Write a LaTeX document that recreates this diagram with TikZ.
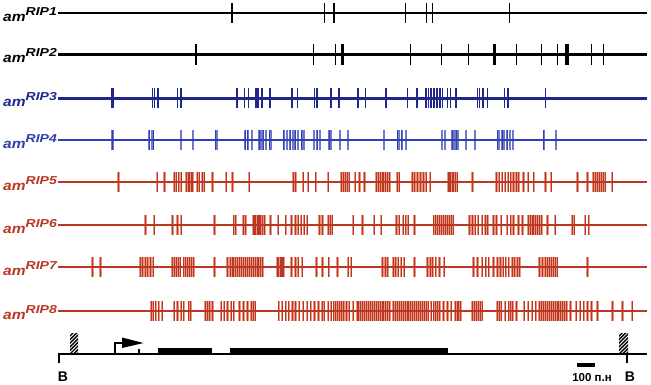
\documentclass[tikz,border=0pt]{standalone}
\usepackage{fontspec}
\setmainfont{Liberation Sans}
\definecolor{navy}{RGB}{30,40,140}
\definecolor{blueb}{RGB}{50,62,172}
\definecolor{bluel}{RGB}{110,120,205}
\definecolor{rust}{RGB}{185,55,35}
\definecolor{pinkish}{RGB}{232,150,130}
\newcommand\riplab[1]{\scalebox{1.15}[1]{\fontsize{13.5}{13.5}\selectfont am}\raisebox{6pt}{\scalebox{1.22}[1]{\fontsize{11.5}{11.5}\selectfont RIP#1}}}
\newcommand\tickrow[4]{\edef\mytmplist{#1}\foreach \z in \mytmplist {\draw[#4] ({#2+\z/2.6},{#3-10}) -- ({#2+\z/2.6},{#3+10});}}
\begin{document}
\begin{tikzpicture}[x=1pt,y=-1pt,
  lab/.style={anchor=base west, inner sep=0pt, font=\bfseries\itshape},
  bigb/.style={inner sep=0pt, font=\bfseries\fontsize{14}{14}\selectfont}]
\useasboundingbox (0,0) rectangle (651,384);
\fill[white] (0,0) rectangle (651,384);

% ---------- labels ----------
\node[lab] (l1) at (3,21.5) {\riplab{1}};
\node[lab] (l2) at (3,62) {\riplab{2}};
\node[lab, text=navy] (l3) at (3,106) {\riplab{3}};
\node[lab, text=blueb] (l4) at (3,148) {\riplab{4}};
\node[lab, text=rust] (l5) at (3,190) {\riplab{5}};
\node[lab, text=rust] (l6) at (3,233) {\riplab{6}};
\node[lab, text=rust] (l7) at (3,275) {\riplab{7}};
\node[lab, text=rust] (l8) at (3,319) {\riplab{8}};

% ---------- row 1 ----------
\draw[line width=2] (58,13) -- (647,13);
\foreach \x/\w in {232/1.1, 324.3/1.1, 334.2/1.8, 405.5/1.1, 426.4/1.8, 432.1/1.1, 509.1/1.1}
  {\draw[line width=\w] (\x,3) -- (\x,23);}

% ---------- row 2 ----------
\draw[line width=3] (58,54) -- (647,54);
\foreach \x/\w in {196/1.2, 313.3/1.2, 335.8/0.8, 342.6/3.5, 410.4/1, 441.7/1, 468.3/1, 494.5/3.5, 516/1, 541.9/1, 557.9/1, 567/3.5, 591.4/1, 603.6/1}
  {\draw[line width=\w] (\x,44) -- (\x,65);}

% ---------- row 3 ----------
\draw[navy, line width=3] (58,98) -- (647,98);
\tickrow{135,139,240,245,255,305,315,460,480,490,510,515,525,545,548,603,618,662,668,705,725,775,795,848,903,928,952,958,965,972,980,988,995,1008,1015,1030,1085,1090,1100,1112,1155,1165,1262}{60}{98}{navy, line width=1.4}

% ---------- row 4 ----------
\tickrow{135,138,232,238,242,315,345,405,408,482,488,500,518,522,528,535,545,548,582,590,598,605,612,620,628,635,660,668,675,700,705,728,748,842,878,882,888,900,993,1000,1020,1025,1030,1035,1055,1080,1138,1142,1150,1155,1162,1170,1178,1258,1290}{60}{140}{bluel, line width=2}
\draw[blueb, line width=2] (58,140) -- (647,140);
\tickrow{135,232,242,405,482,488,518,528,545,582,598,612,628,668,700,878,888,1020,1030,1138,1150,1162,1258}{60}{140}{blueb, line width=0.8}

% ---------- row 5 ----------
\def\rowfive{165,265,285,310,315,322,328,342,346,350,354,358,370,375,382,388,410,445,462,505,620,625,645,658,678,710,745,750,755,760,765,780,792,805,835,840,845,850,855,860,865,870,890,895,930,935,942,950,958,965,975,1022,1025,1028,1032,1035,1040,1045,1085,1148,1155,1162,1170,1178,1185,1192,1200,1205,1218,1230,1245,1275,1290,1358,1385,1400,1405,1410,1415,1420,1425,1430,1448}
\tickrow{\rowfive}{55}{182}{pinkish, line width=2.4}
\draw[rust, line width=2.5] (58,182) -- (647,182);
\tickrow{\rowfive}{55}{182}{rust, line width=0.8}

% ---------- row 6 ----------
\def\rowsix{235,258,305,318,328,415,465,470,490,495,515,518,522,525,528,532,535,540,545,560,580,600,615,625,632,640,648,655,688,695,710,715,720,775,800,830,848,888,895,905,912,918,935,985,990,995,1000,1005,1010,1015,1020,1025,1030,1035,1078,1085,1092,1100,1110,1118,1125,1140,1148,1160,1175,1185,1192,1205,1215,1230,1235,1240,1245,1250,1255,1260,1265,1280,1300,1345,1350,1378,1388}
\tickrow{\rowsix}{55}{225}{pinkish, line width=2.4}
\draw[rust, line width=2.5] (58,225) -- (647,225);
\tickrow{\rowsix}{55}{225}{rust, line width=0.8}

% ---------- row 7 ----------
\def\rowseven{98,118,222,228,235,240,248,255,305,310,315,320,325,335,340,345,350,355,360,415,448,455,460,465,470,475,480,485,490,495,500,505,510,515,520,525,530,535,540,578,582,585,588,592,595,615,625,632,642,680,695,712,735,762,770,852,858,865,880,885,892,900,908,935,968,975,982,990,1000,1012,1088,1098,1110,1120,1128,1140,1150,1158,1165,1172,1180,1188,1195,1202,1208,1260,1268,1275,1280,1285,1290,1295,1300,1305,1385}
\tickrow{\rowseven}{55}{267}{pinkish, line width=2.4}
\draw[rust, line width=2.5] (58,267) -- (647,267);
\tickrow{\rowseven}{55}{267}{rust, line width=0.8}

% ---------- row 8 ----------
\def\roweight{250,255,262,270,278,310,318,328,335,348,352,390,395,402,410,432,440,448,458,465,480,490,500,510,515,520,582,590,600,608,618,625,635,645,655,665,675,685,695,700,710,718,725,730,735,740,745,750,758,765,775,785,790,795,800,805,810,815,820,825,830,835,840,845,850,855,860,865,870,880,885,890,895,900,905,910,915,920,925,930,935,940,945,950,955,960,965,970,978,985,990,995,1000,1010,1020,1030,1040,1045,1050,1055,1085,1090,1095,1100,1105,1110,1150,1155,1160,1170,1180,1185,1190,1200,1220,1230,1240,1250,1260,1265,1270,1275,1280,1285,1290,1295,1300,1305,1310,1315,1320,1325,1330,1340,1355,1365,1375,1385,1395,1410,1450,1475,1500}
\tickrow{\roweight}{55}{311}{pinkish, line width=2.4}
\draw[rust, line width=2.5] (58,311) -- (647,311);
\tickrow{\roweight}{55}{311}{rust, line width=0.8}

% ---------- gene map ----------
\draw[line width=1.5] (59,363) -- (59,354) -- (647,354);
\draw[line width=1.5] (627,354) -- (627,363);
\begin{scope}
  \clip (70,333) rectangle (78,354);
  \foreach \k in {0,...,8} {\draw[line width=1.4] (68,{338+3.6*\k}) -- (80,{326+3.6*\k});}
\end{scope}
\begin{scope}
  \clip (619,333) rectangle (628,353);
  \foreach \k in {0,...,8} {\draw[line width=1.4] (617,{338+3.6*\k}) -- (630,{325+3.6*\k});}
\end{scope}
\fill (158,348) rectangle (212,354);
\fill (230,348) rectangle (448,354);
\draw[line width=1.5] (115,354) -- (115,343) -- (124,343);
\fill (122,337.5) -- (143.5,343) -- (122,348) -- cycle;
\draw[line width=1.2] (139,349) -- (139,354);
\fill (577,363) rectangle (595,367);
\node[bigb] (bl) at (63,377) {B};
\node[bigb] (br) at (630,377) {B};
\node[inner sep=0pt, font=\bfseries\fontsize{11.5}{11.5}\selectfont] (sc) at (592,377.5) {100 п.н};
\end{tikzpicture}
\end{document}
